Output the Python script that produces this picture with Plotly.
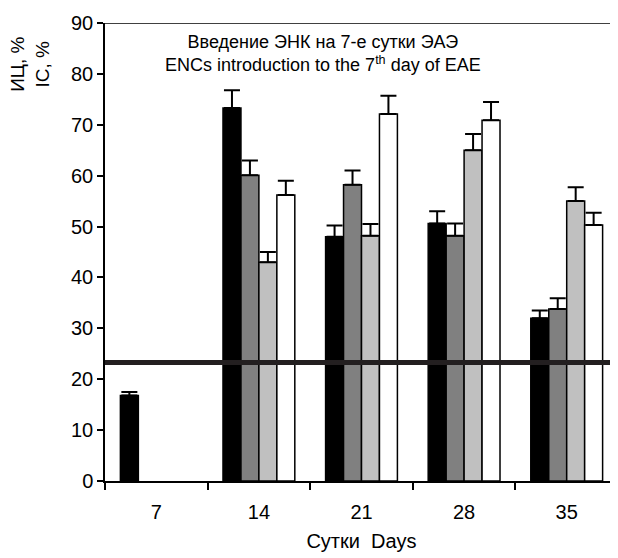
import plotly.graph_objects as go

days = ["7", "14", "21", "28", "35"]
s1 = [16.8, 73.3, 48.0, 50.6, 32.0]
s1_err = [0.7, 3.5, 2.2, 2.4, 1.5]
s2 = [None, 60.1, 58.2, 48.2, 33.8]
s2_err = [0, 2.9, 2.8, 2.4, 2.1]
s3 = [None, 43.0, 48.2, 65.0, 55.0]
s3_err = [0, 2.0, 2.3, 3.2, 2.7]
s4 = [None, 56.2, 72.1, 70.9, 50.3]
s4_err = [0, 2.8, 3.6, 3.6, 2.4]
threshold = 23.3

colors = ["#000000", "#808080", "#c0c0c0", "#ffffff"]
series = [(s1, s1_err), (s2, s2_err), (s3, s3_err), (s4, s4_err)]

fig = go.Figure()
for (vals, errs), c in zip(series, colors):
    fig.add_trace(go.Bar(
        x=days, y=vals,
        marker=dict(color=c, line=dict(color="#000000", width=1.5)),
        error_y=dict(type="data", array=errs, arrayminus=[0]*len(errs), symmetric=False,
                     color="#000000", thickness=2, width=8),
        showlegend=False,
    ))

fig.add_shape(type="line", xref="paper", yref="y", x0=0, x1=1, y0=threshold, y1=threshold,
              line=dict(color="#231f20", width=5), layer="above")
fig.add_shape(type="line", xref="paper", yref="y", x0=0, x1=1, y0=90, y1=90,
              line=dict(color="#000000", width=1.5), layer="above")

fig.add_annotation(xref="paper", yref="paper", x=0.425, y=0.985, xanchor="center", yanchor="top",
                   text="Введение ЭНК на 7-е сутки ЭАЭ<br>ENCs introduction to the 7<sup>th</sup> day of EAE",
                   showarrow=False, font=dict(size=18, color="#000000"), align="center")
fig.add_annotation(xref="paper", yref="paper", x=-0.145, y=0.91, xanchor="center", yanchor="middle",
                   text="ИЦ, %<br>IC, %", textangle=-90, showarrow=False,
                   font=dict(size=19, color="#000000"), align="center")

fig.update_layout(
    width=618, height=558,
    margin=dict(l=97, r=8, t=15, b=85, autoexpand=False),
    paper_bgcolor="white", plot_bgcolor="white",
    barmode="group", bargap=0.3, bargroupgap=0,
    font=dict(family="Liberation Sans, Arial, sans-serif", color="#000000"),
    xaxis=dict(type="category", tickson="boundaries", ticks="outside", ticklen=7, tickwidth=1.5,
               tickcolor="#000000", showline=True, linecolor="#000000", linewidth=1.5,
               tickfont=dict(size=20), showgrid=False, automargin=False, ticklabelstandoff=12,
               title=dict(text="Сутки  Days", font=dict(size=20), standoff=12)),
    yaxis=dict(range=[0, 90], dtick=10, ticks="outside", ticklen=6, tickwidth=1.5,
               tickcolor="#000000", showline=True, linecolor="#000000", linewidth=1.5,
               tickfont=dict(size=20), showgrid=False, zeroline=False, automargin=False),
)

fig.write_html("out.html")
